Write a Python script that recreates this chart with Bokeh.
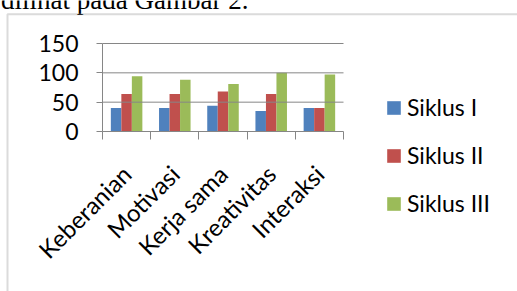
import numpy as np
from math import pi
from bokeh.plotting import figure
from bokeh.models import Range1d, FixedTicker, Label, BoxAnnotation, Legend, LegendItem
from bokeh.embed import file_html
from bokeh.resources import INLINE

# ---- data ----
categories = ["Keberanian", "Motivasi", "Kerja sama", "Kreativitas", "Interaksi"]
siklus_1 = [40, 40, 44, 35, 40]
siklus_2 = [64, 64, 68, 64, 40]
siklus_3 = [94, 88, 81, 100, 97]
series_names = ["Siklus I", "Siklus II", "Siklus III"]
series_colors = ["#4F81BD", "#C0504D", "#9BBB59"]
y_ticks = [0, 50, 100, 150]
caption = "dilihat pada Gambar 2."

# ---- layout (canvas px); the frame covers the whole canvas ----
W, H = 517, 291
PL, PR, PT, PB = 102.0, 343.0, 43.0, 131.0   # plot-area edges in px
GRID = "#868686"
FONT = "Lato"
FSIZE = "23px"

n = len(categories)
ymax = y_ticks[-1]
sx = (PR - PL) / n
sy = (PB - PT) / ymax
x_range = Range1d(-PL / sx, n + (W - PR) / sx)
y_range = Range1d(-(H - PB) / sy, ymax + PT / sy)

p = figure(width=W, height=H, output_backend="svg", toolbar_location=None,
           x_range=x_range, y_range=y_range, min_border=0)
p.title.visible = False
p.outline_line_color = None
p.background_fill_color = "white"
p.border_fill_color = "white"
p.xgrid.visible = False
p.ygrid.visible = False

centers = np.arange(n) + 0.5
bw = 0.218
renderers = []
for i, (vals, col) in enumerate(zip([siklus_1, siklus_2, siklus_3], series_colors)):
    r = p.vbar(x=centers + (i - 1) * bw, top=vals, bottom=0, width=bw,
               fill_color=col, line_color=None)
    renderers.append(r)

# horizontal gridlines across the plot area
gy = [t for t in y_ticks if t > 0]
p.segment(x0=[0] * len(gy), y0=gy, x1=[n] * len(gy), y1=gy, line_color=GRID, line_width=1)

xa = p.xaxis[0]
xa.fixed_location = 0
xa.bounds = (0, n)
xa.ticker = FixedTicker(ticks=[float(c) for c in centers], minor_ticks=list(range(n + 1)))
xa.major_label_overrides = {float(c): cat for c, cat in zip(centers, categories)}
xa.major_label_orientation = pi / 4
xa.major_tick_in = 0
xa.major_tick_out = 0
xa.minor_tick_in = 0
xa.minor_tick_out = 8
xa.minor_tick_line_color = GRID
xa.axis_line_color = GRID
xa.major_label_standoff = 30
xa.major_label_text_font = FONT
xa.major_label_text_font_size = "24px"
xa.major_label_text_color = "black"

ya = p.yaxis[0]
ya.fixed_location = 0
ya.bounds = (0, ymax)
ya.ticker = FixedTicker(ticks=y_ticks)
ya.major_tick_in = 0
ya.major_tick_out = 6
ya.minor_tick_line_color = None
ya.major_tick_line_color = GRID
ya.axis_line_color = GRID
ya.major_label_standoff = 18
ya.major_label_text_font = FONT
ya.major_label_text_font_size = FSIZE
ya.major_label_text_color = "black"

legend = Legend(items=[LegendItem(label=s, renderers=[r]) for s, r in zip(series_names, renderers)],
                location=(385, 74), padding=0, margin=0, spacing=20,
                glyph_width=17, glyph_height=17, label_standoff=5,
                label_text_font=FONT, label_text_font_size=FSIZE, label_text_color="black",
                border_line_color=None, background_fill_alpha=0)
p.add_layout(legend)

p.add_layout(Label(x=0.5, y=H + 0.5, x_units="screen", y_units="screen", text=caption,
                   text_font="Liberation Serif", text_font_size="27px",
                   text_baseline="alphabetic", text_color="black"))
p.add_layout(BoxAnnotation(left=7, right=W + 40, top=H - 13.7, bottom=-40,
                           left_units="screen", right_units="screen",
                           top_units="screen", bottom_units="screen",
                           fill_color=None, line_color="#878787", line_width=2))

open("out.html", "w").write(file_html(p, INLINE))
